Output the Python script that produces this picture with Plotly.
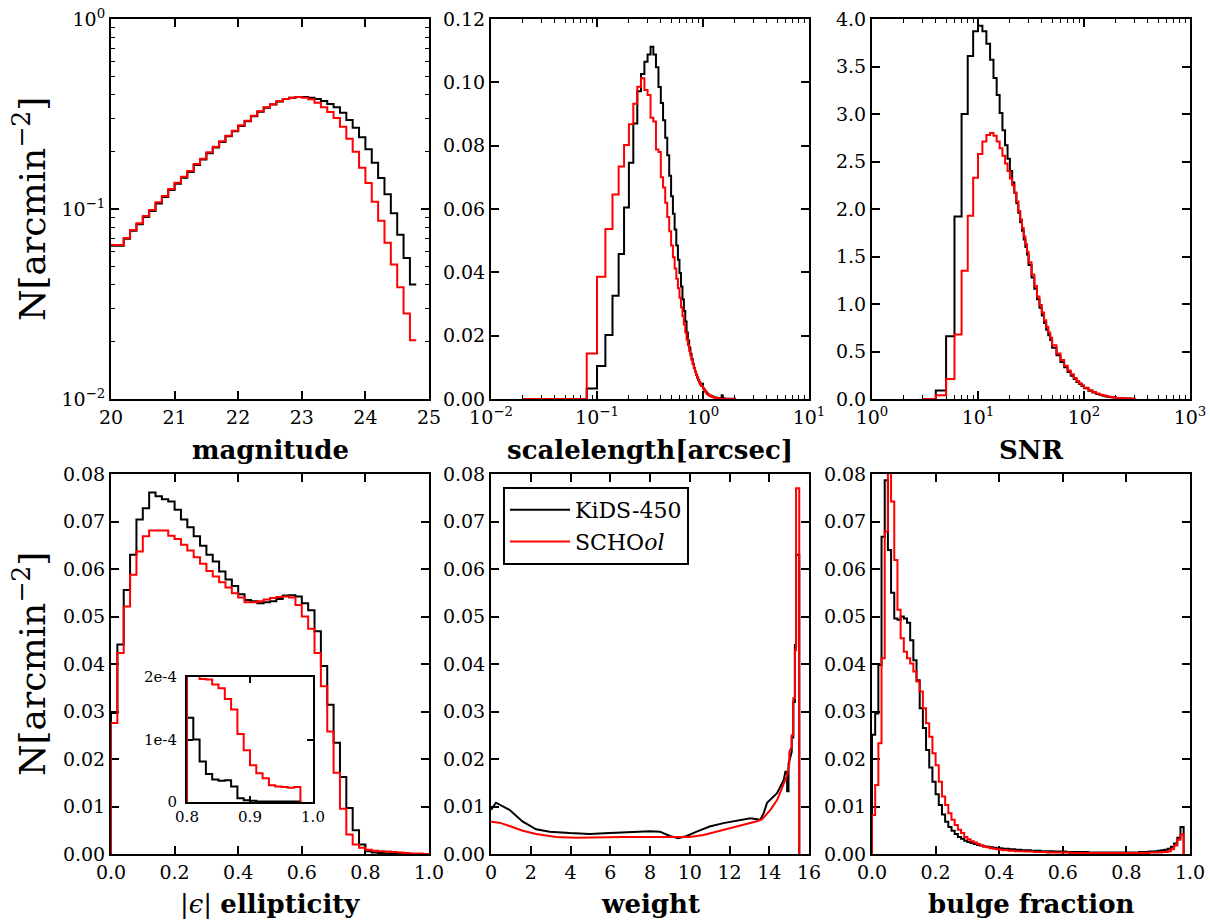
import plotly.graph_objects as go

# ---------------- DATA ----------------
# Panel 1: magnitude (bins of 0.1 from 20.0 to 24.8), log y
mag_edges = [round(20.0 + 0.1 * i, 1) for i in range(49)]
mag_kids = [0.0640, 0.0640, 0.0698, 0.0768, 0.0832, 0.0908, 0.0975, 0.1070, 0.1155, 0.1258,
            0.1360, 0.1462, 0.1565, 0.1705, 0.1820, 0.1965, 0.2108, 0.2250, 0.2412, 0.2565,
            0.2738, 0.2898, 0.3080, 0.3250, 0.3415, 0.3545, 0.3680, 0.3788, 0.3852, 0.3886,
            0.3886, 0.3855, 0.3793, 0.3702, 0.3569, 0.3428, 0.3214, 0.2941, 0.2680, 0.2383,
            0.2061, 0.1753, 0.1456, 0.1195, 0.0949, 0.0733, 0.0552, 0.0401]
mag_school = [0.0646, 0.0646, 0.0704, 0.0775, 0.0841, 0.0919, 0.0988, 0.1084, 0.1171, 0.1274,
              0.1376, 0.1480, 0.1585, 0.1725, 0.1840, 0.1987, 0.2129, 0.2271, 0.2432, 0.2584,
              0.2757, 0.2917, 0.3099, 0.3266, 0.3428, 0.3555, 0.3687, 0.3793, 0.3855, 0.3886,
              0.3855, 0.3778, 0.3627, 0.3428, 0.3239, 0.3012, 0.2713, 0.2345, 0.2003, 0.1650,
              0.1370, 0.1093, 0.0868, 0.0665, 0.0511, 0.0387, 0.0282, 0.0204]

# Panel 2: scalelength [arcsec] (bins of 0.02 from 0.02 to 2.00), log x
scale_edges = [round(0.02 + 0.02 * i, 2) for i in range(100)]
scale_kids = [0.0, 0.0, 0.0, 0.0033, 0.0104, 0.0202, 0.0326, 0.0458, 0.0605, 0.0746,
              0.0870, 0.0972, 0.1026, 0.1065, 0.1088, 0.1112, 0.1088, 0.1048, 0.0985, 0.0935,
              0.0880, 0.0825, 0.0770, 0.0705, 0.0640, 0.0585, 0.0535, 0.0485, 0.0440, 0.0398,
              0.0355, 0.0315, 0.0278, 0.0245, 0.0210, 0.0185, 0.0163, 0.0143, 0.0126, 0.0111,
              0.0098, 0.0087, 0.0077, 0.0068, 0.0060, 0.0053, 0.0047, 0.0042, 0.0048, 0.0034,
              0.0030, 0.0026, 0.0022, 0.0019, 0.0016, 0.0014, 0.0012, 0.0011, 0.0010, 0.0009,
              0.0008, 0.0007, 0.0006, 0.0005, 0.0005, 0.0004, 0.0004, 0.0003, 0.0003, 0.0003,
              0.0003, 0.0002, 0.0002, 0.0002, 0.0012, 0.0010, 0.0002, 0.0002, 0.0002, 0.0001,
              0.0001, 0.0001, 0.0001, 0.0001, 0.0001, 0.0001, 0.0001, 0.0001, 0.0001, 0.0001,
              0.0001, 0.0001, 0.0001, 0.0001, 0.0001, 0.0001, 0.0001, 0.0001, 0.0001]
scale_school = [0.0, 0.0, 0.0, 0.0144, 0.0386, 0.0537, 0.0646, 0.0734, 0.0802, 0.0868,
                0.0932, 0.0986, 0.1013, 0.0976, 0.0960, 0.0888, 0.0876, 0.0788, 0.0780, 0.0700,
                0.0668, 0.0620, 0.0575, 0.0530, 0.0485, 0.0448, 0.0412, 0.0380, 0.0350, 0.0320,
                0.0290, 0.0262, 0.0235, 0.0210, 0.0188, 0.0170, 0.0152, 0.0137, 0.0123, 0.0110,
                0.0097, 0.0086, 0.0076, 0.0067, 0.0059, 0.0052, 0.0046, 0.0041, 0.0040, 0.0033,
                0.0029, 0.0025, 0.0021, 0.0018, 0.0015, 0.0013, 0.0011, 0.0010, 0.0009, 0.0008,
                0.0007, 0.0006, 0.0005, 0.0004, 0.0004, 0.0003, 0.0003, 0.0002, 0.0002, 0.0002,
                0.0002, 0.0001, 0.0001, 0.0001, 0.0001, 0.0001, 0.0001, 0.0001, 0.0001, 0.0,
                0.0, 0.0, 0.0, 0.0, 0.0, 0.0, 0.0, 0.0, 0.0, 0.0,
                0.0, 0.0, 0.0, 0.0, 0.0, 0.0, 0.0, 0.0, 0.0]

# Panel 3: SNR, log x
snr_edges = ([float(v) for v in range(3, 31)] + [float(v) for v in range(32, 51, 2)]
             + [float(v) for v in range(55, 101, 5)] + [float(v) for v in range(110, 201, 10)]
             + [225.0, 250.0, 275.0, 300.0])
snr_kids = [0.0, 0.09, 0.66, 1.92, 3.00, 3.61, 3.87, 3.93, 3.87, 3.74,
            3.57, 3.38, 3.20, 3.01, 2.83, 2.67, 2.53, 2.40, 2.28, 2.17,
            2.06, 1.96, 1.86, 1.77, 1.68, 1.60, 1.52,
            1.41, 1.28, 1.16, 1.05, 0.96, 0.88, 0.80, 0.73, 0.67, 0.62,
            0.54, 0.46, 0.39, 0.335, 0.285, 0.245, 0.21, 0.18, 0.157, 0.137,
            0.112, 0.087, 0.068, 0.053, 0.042, 0.034, 0.027, 0.022, 0.018, 0.015,
            0.010, 0.006, 0.004, 0.002]
snr_school = [0.0, 0.04, 0.21, 0.68, 1.35, 1.93, 2.33, 2.58, 2.71, 2.78,
              2.80, 2.77, 2.71, 2.64, 2.56, 2.48, 2.40, 2.32, 2.25, 2.17,
              2.08, 1.98, 1.89, 1.80, 1.71, 1.63, 1.55,
              1.44, 1.31, 1.19, 1.08, 0.99, 0.91, 0.83, 0.76, 0.70, 0.645,
              0.565, 0.48, 0.41, 0.35, 0.30, 0.26, 0.222, 0.19, 0.166, 0.145,
              0.119, 0.093, 0.073, 0.057, 0.045, 0.036, 0.029, 0.024, 0.019, 0.016,
              0.011, 0.007, 0.004, 0.002]

# Panel 4: |e| ellipticity (bins of 0.02)
ell_edges = [round(0.02 * i, 2) for i in range(51)]
ell_kids = [0.0297, 0.0441, 0.0556, 0.0630, 0.0704, 0.0728, 0.0761, 0.0753, 0.0747, 0.0742,
            0.0725, 0.0704, 0.0688, 0.0669, 0.0649, 0.0630, 0.0616, 0.0595, 0.0578, 0.0564,
            0.0547, 0.0535, 0.0532, 0.0528, 0.0530, 0.0532, 0.0537, 0.0544, 0.0545, 0.0542,
            0.0528, 0.0513, 0.0469, 0.0396, 0.0314, 0.0234, 0.0162, 0.0097, 0.0050, 0.0020,
            0.0006, 0.0003, 0.0002, 0.0001, 0.0001, 0.0, 0.0, 0.0, 0.0, 0.0]
ell_school = [0.0276, 0.0423, 0.0521, 0.0588, 0.0637, 0.0669, 0.0681, 0.0681, 0.0681, 0.0670,
              0.0663, 0.0651, 0.0639, 0.0625, 0.0611, 0.0596, 0.0584, 0.0572, 0.0561, 0.0549,
              0.0540, 0.0530, 0.0530, 0.0532, 0.0536, 0.0539, 0.0541, 0.0542, 0.0540, 0.0524,
              0.0500, 0.0474, 0.0423, 0.0353, 0.0258, 0.0171, 0.0095, 0.0041, 0.0020, 0.0013,
              0.0009, 0.0007, 0.0006, 0.0005, 0.0004, 0.0003, 0.0002, 0.0001, 0.0001, 0.0]

# Inset: tail of ellipticity (bins of 0.01 from 0.80 to 0.98)
inset_edges = [round(0.80 + 0.01 * i, 2) for i in range(19)]
inset_kids = [1.35e-4, 1.00e-4, 0.65e-4, 0.45e-4, 0.36e-4, 0.34e-4, 0.35e-4, 0.25e-4, 0.06e-4,
              0.03e-4, 0.02e-4, 0.01e-4, 0.01e-4, 0.01e-4, 0.01e-4, 0.01e-4, 0.01e-4, 0.01e-4]
inset_school = [2.4e-4, 2.2e-4, 1.97e-4, 1.96e-4, 1.88e-4, 1.82e-4, 1.65e-4, 1.48e-4, 1.09e-4,
                0.83e-4, 0.59e-4, 0.46e-4, 0.38e-4, 0.27e-4, 0.25e-4, 0.24e-4, 0.23e-4, 0.24e-4]

# Panel 5: weight (fine-binned, drawn as a line)
w_kids_x = [0.0, 0.25, 0.93, 1.6, 2.27, 2.95, 3.96, 4.97, 5.98, 6.99, 8.0, 8.5, 9.0, 9.43,
            9.85, 10.35, 11.0, 11.7, 12.37, 13.05, 13.38, 13.55, 13.72, 13.89, 14.39, 14.73,
            14.81, 14.9, 14.9, 14.97, 14.97, 15.13, 15.13, 15.21, 15.21, 15.29, 15.29, 15.35,
            15.35, 15.51, 15.51]
w_kids_y = [0.0093, 0.0108, 0.0093, 0.0068, 0.0052, 0.0047, 0.0044, 0.0042, 0.0044, 0.0046,
            0.0048, 0.0047, 0.0038, 0.0033, 0.0038, 0.0047, 0.0058, 0.0065, 0.0070, 0.0075,
            0.0073, 0.0072, 0.0086, 0.0108, 0.0128, 0.0156, 0.0173, 0.0173, 0.0132, 0.0132,
            0.0190, 0.0215, 0.0245, 0.0245, 0.0320, 0.0320, 0.0440, 0.0440, 0.0630, 0.0630, 0.0]
w_school_x = [0.0, 0.42, 0.93, 1.6, 2.27, 3.28, 4.29, 5.3, 6.65, 8.0, 9.0, 9.5, 10.0, 10.7,
              11.36, 12.0, 12.7, 13.38, 13.63, 14.06, 14.4, 14.73, 14.9, 15.01, 15.01, 15.13,
              15.13, 15.21, 15.21, 15.29, 15.29, 15.35, 15.35, 15.51, 15.51]
w_school_y = [0.0068, 0.0066, 0.0059, 0.0049, 0.0042, 0.0036, 0.0034, 0.0035, 0.0036, 0.0036,
              0.0036, 0.0036, 0.0036, 0.0040, 0.0047, 0.0055, 0.0062, 0.0069, 0.0073, 0.0093,
              0.0114, 0.0149, 0.0166, 0.0190, 0.0215, 0.0226, 0.0250, 0.0250, 0.0328, 0.0328,
              0.0429, 0.0429, 0.0770, 0.0770, 0.0]

# Panel 6: bulge fraction (bins of 0.01 from 0.00 to 0.98)
bf_edges = [round(0.01 * i, 2) for i in range(99)]
bf_kids = [0.0251, 0.0296, 0.0398, 0.0668, 0.0787, 0.0640, 0.0550, 0.0496, 0.0493, 0.0500,
           0.0496, 0.0487, 0.0450, 0.0408, 0.0366, 0.0307, 0.0265, 0.0219, 0.0182, 0.0152,
           0.0126, 0.0103, 0.0083, 0.0068, 0.0057, 0.0049, 0.0042, 0.0036, 0.0032, 0.0028,
           0.0025, 0.0023, 0.0021, 0.0019, 0.0018, 0.0016, 0.0015, 0.0014, 0.0013, 0.0012,
           0.0012, 0.0011, 0.0011, 0.0010, 0.0010, 0.0009, 0.0009, 0.0008, 0.0008, 0.0008,
           0.0007, 0.0007, 0.0007, 0.0006, 0.0006, 0.0006, 0.0006, 0.0005, 0.0005, 0.0005,
           0.0005, 0.0004, 0.0004, 0.0004, 0.0004, 0.0004, 0.0004, 0.0004, 0.0003, 0.0003,
           0.0003, 0.0003, 0.0003, 0.0003, 0.0003, 0.0003, 0.0003, 0.0003, 0.0003, 0.0003,
           0.0003, 0.0003, 0.0003, 0.0003, 0.0004, 0.0004, 0.0004, 0.0005, 0.0005, 0.0006,
           0.0007, 0.0008, 0.0009, 0.0011, 0.0015, 0.0022, 0.0034, 0.0057]
bf_school = [0.0082, 0.0145, 0.0233, 0.0412, 0.0679, 0.0815, 0.0742, 0.0619, 0.0514, 0.0454,
             0.0426, 0.0412, 0.0401, 0.0384, 0.0363, 0.0342, 0.0307, 0.0275, 0.0247, 0.0212,
             0.0187, 0.0152, 0.0121, 0.0103, 0.0086, 0.0072, 0.0061, 0.0051, 0.0044, 0.0036,
             0.0031, 0.0027, 0.0024, 0.0021, 0.0018, 0.0016, 0.0014, 0.0012, 0.0011, 0.0010,
             0.0009, 0.0008, 0.0008, 0.0007, 0.0007, 0.0006, 0.0006, 0.0006, 0.0005, 0.0005,
             0.0005, 0.0004, 0.0004, 0.0004, 0.0004, 0.0003, 0.0003, 0.0003, 0.0003, 0.0003,
             0.0003, 0.0003, 0.0002, 0.0002, 0.0002, 0.0002, 0.0002, 0.0002, 0.0002, 0.0002,
             0.0002, 0.0002, 0.0002, 0.0002, 0.0002, 0.0002, 0.0002, 0.0002, 0.0002, 0.0002,
             0.0002, 0.0002, 0.0002, 0.0002, 0.0002, 0.0002, 0.0002, 0.0003, 0.0003, 0.0003,
             0.0003, 0.0004, 0.0004, 0.0006, 0.0010, 0.0018, 0.0030, 0.0041]

SERIES = ["KiDS-450", "SCHO<i>ol</i>"]
COLORS = ["black", "#ff0000"]

# ---------------- LAYOUT HELPERS ----------------
W, H = 1210, 921
FONT = "DejaVu Serif"


def fx(p):
    return p / W


def fy(p):
    return 1 - p / H


def step_xy(edges, vals, drop=True):
    if drop:
        xs = [edges[0]] + list(edges[:-1]) + [edges[-1]]
        ys = [0.0] + list(vals) + [0.0]
    else:
        xs = list(edges)
        ys = list(vals) + [vals[-1]]
    return xs, ys


fig = go.Figure()


def add_hist(edges, vals_k, vals_s, ax, drop=True):
    for i, vals in enumerate([vals_k, vals_s]):
        xs, ys = step_xy(edges, vals, drop)
        fig.add_trace(go.Scatter(x=xs, y=ys, mode="lines", line=dict(color=COLORS[i], width=2, shape="hv"),
                                 xaxis="x" + ax, yaxis="y" + ax, showlegend=False, hoverinfo="skip"))


add_hist(mag_edges, mag_kids, mag_school, "", drop=False)
add_hist(scale_edges, scale_kids, scale_school, "2")
add_hist(snr_edges, snr_kids, snr_school, "3")
add_hist(ell_edges, ell_kids, ell_school, "4")
add_hist(bf_edges, bf_kids, bf_school, "6")
add_hist(inset_edges, inset_kids, inset_school, "7")

for i, (xx, yy) in enumerate([(w_kids_x, w_kids_y), (w_school_x, w_school_y)]):
    fig.add_trace(go.Scatter(x=xx, y=yy, mode="lines", name=SERIES[i],
                             line=dict(color=COLORS[i], width=2), xaxis="x5", yaxis="y5",
                             showlegend=True, hoverinfo="skip"))

base = dict(showline=True, linewidth=2, linecolor="black", mirror="allticks", ticks="inside",
            ticklen=8, tickwidth=1.5, tickcolor="black", showgrid=False, zeroline=False,
            automargin=False, layer="below traces",
            tickfont=dict(family=FONT, size=19, color="black"))


def sup(e):
    return "10<sup>%s</sup>" % (str(e).replace("-", "\u2212"))


def minor_log(lo, hi):
    vals = []
    for d in range(lo, hi):
        for k in range(2, 10):
            vals.append(k * 10.0 ** d)
    return vals


col = [(111, 429), (491, 809), (872, 1190)]
row = [(19, 399), (474, 854)]


def dom_x(c):
    return [fx(col[c][0]), fx(col[c][1])]


def dom_y(r):
    return [fy(row[r][1]), fy(row[r][0])]


lin_y8 = dict(range=[0, 0.08], tickmode="array", tickvals=[i * 0.01 for i in range(9)],
              ticktext=["%.2f" % (i * 0.01) for i in range(9)])
minor_style = dict(ticks="inside", ticklen=4, tickwidth=1.2, tickcolor="black", tickmode="array")
lay = dict(
    xaxis=dict(base, domain=dom_x(0), anchor="y", range=[20, 25], tickmode="array",
               tickvals=[20, 21, 22, 23, 24, 25], ticktext=["20", "21", "22", "23", "24", "25"]),
    yaxis=dict(base, domain=dom_y(0), anchor="x", type="log", range=[-2, 0], tickmode="array",
               tickvals=[0.01, 0.1, 1], ticktext=[sup(-2), sup(-1), sup(0)],
               minor=dict(minor_style, tickvals=minor_log(-2, 0))),
    xaxis2=dict(base, domain=dom_x(1), anchor="y2", type="log", range=[-2, 1], tickmode="array",
                tickvals=[0.01, 0.1, 1, 10], ticktext=[sup(-2), sup(-1), sup(0), sup(1)],
                minor=dict(minor_style, tickvals=minor_log(-2, 1))),
    yaxis2=dict(base, domain=dom_y(0), anchor="x2", range=[0, 0.12], tickmode="array",
                tickvals=[i * 0.02 for i in range(7)], ticktext=["%.2f" % (i * 0.02) for i in range(7)]),
    xaxis3=dict(base, domain=dom_x(2), anchor="y3", type="log", range=[0, 3], tickmode="array",
                tickvals=[1, 10, 100, 1000], ticktext=[sup(0), sup(1), sup(2), sup(3)],
                minor=dict(minor_style, tickvals=minor_log(0, 3))),
    yaxis3=dict(base, domain=dom_y(0), anchor="x3", range=[0, 4], tickmode="array",
                tickvals=[i * 0.5 for i in range(9)], ticktext=["%.1f" % (i * 0.5) for i in range(9)]),
    xaxis4=dict(base, domain=dom_x(0), anchor="y4", range=[0, 1], tickmode="array",
                tickvals=[i * 0.2 for i in range(6)], ticktext=["%.1f" % (i * 0.2) for i in range(6)]),
    yaxis4=dict(base, domain=dom_y(1), anchor="x4", **lin_y8),
    xaxis5=dict(base, domain=dom_x(1), anchor="y5", range=[0, 16], tickmode="array",
                tickvals=list(range(0, 17, 2)), ticktext=[str(v) for v in range(0, 17, 2)]),
    yaxis5=dict(base, domain=dom_y(1), anchor="x5", **lin_y8),
    xaxis6=dict(base, domain=dom_x(2), anchor="y6", range=[0, 1], tickmode="array",
                tickvals=[i * 0.2 for i in range(6)], ticktext=["%.1f" % (i * 0.2) for i in range(6)]),
    yaxis6=dict(base, domain=dom_y(1), anchor="x6", **lin_y8),
    xaxis7=dict(base, domain=[fx(187), fx(313)], anchor="y7", range=[0.8, 1.0], tickmode="array",
                tickvals=[0.8, 0.9, 1.0], ticktext=["0.8", "0.9", "1.0"], ticklen=6,
                tickfont=dict(family=FONT, size=15, color="black")),
    yaxis7=dict(base, domain=[fy(802), fy(677)], anchor="x7", range=[0, 2e-4], tickmode="array",
                tickvals=[0, 1e-4, 2e-4], ticktext=["0", "1e-4", "2e-4"], ticklen=6,
                ticklabelstandoff=5, tickfont=dict(family=FONT, size=15, color="black")),
)
fig.update_layout(**lay)

TITLE_FONT = dict(family=FONT, size=26, color="black")
ann = []
for (txt, cx, cy) in [("<b>magnitude</b>", 270, 450), ("<b>scalelength[arcsec]</b>", 650, 450),
                      ("<b>SNR</b>", 1031, 450), ("|<i>\u03f5</i>| <b>ellipticity</b>", 270, 904),
                      ("<b>weight</b>", 650, 904), ("<b>bulge fraction</b>", 1031, 904)]:
    ann.append(dict(text=txt, x=fx(cx), y=fy(cy), xref="paper", yref="paper", showarrow=False,
                    xanchor="center", yanchor="middle", font=TITLE_FONT))
for cy in [209, 664]:
    ann.append(dict(text="N[arcmin<sup>\u22122</sup>]", x=fx(30), y=fy(cy), xref="paper", yref="paper",
                    showarrow=False, textangle=-90, xanchor="center", yanchor="middle",
                    font=dict(family=FONT, size=36, color="black")))

fig.update_layout(
    width=W, height=H, margin=dict(l=0, r=0, t=0, b=0, autoexpand=False),
    paper_bgcolor="white", plot_bgcolor="white",
    font=dict(family=FONT, color="black"), annotations=ann,
    legend=dict(x=fx(503), y=fy(487), xanchor="left", yanchor="top", bordercolor="black", borderwidth=2,
                bgcolor="white", font=dict(family=FONT, size=22, color="black"), itemwidth=60,
                tracegroupgap=0),
)

fig.write_html("out.html", config={"displayModeBar": False},
               post_script="document.body.style.margin='0';document.body.style.overflow='hidden';")
